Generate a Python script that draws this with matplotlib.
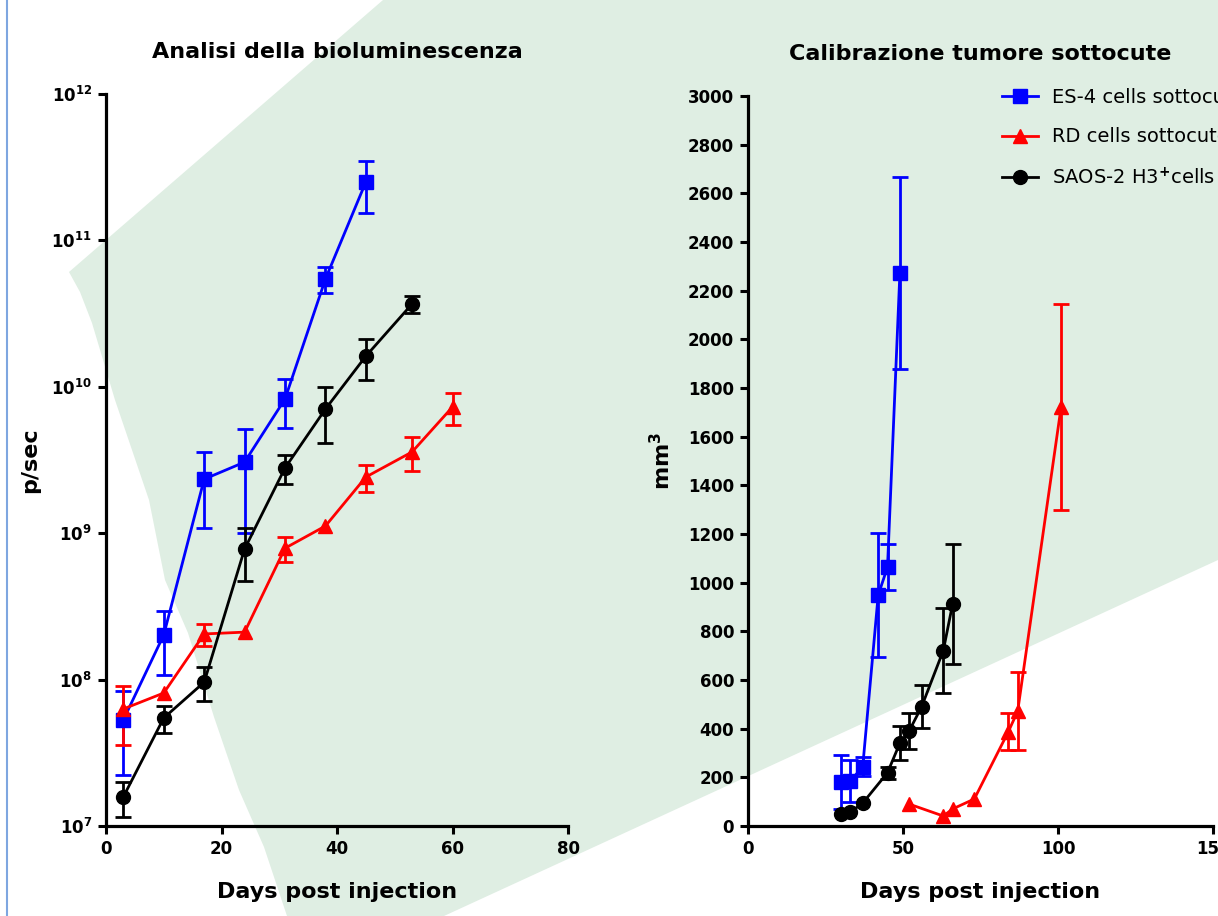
import numpy as np
import matplotlib
matplotlib.use('Agg')
import matplotlib.pyplot as plt
from matplotlib.patches import Polygon
from matplotlib.lines import Line2D
from matplotlib.ticker import NullLocator

nan = np.nan

# bioluminescenza (p/sec): media e SEM
bio_days_es4 = [3, 10, 17, 24, 31, 38, 45]
bio_es4 = [5.3e7, 2.02e8, 2.34e9, 3.06e9, 8.26e9, 5.45e10, 2.51e11]
bio_es4_sem = [3.06e7, 0.94e8, 1.25e9, 2.05e9, 3.0e9, 1.1e10, 0.96e11]

bio_days_rd = [3, 10, 17, 24, 31, 38, 45, 53, 60]
bio_rd = [6.3e7, 8.1e7, 2.05e8, 2.11e8, 7.9e8, 1.12e9, 2.42e9, 3.59e9, 7.28e9]
bio_rd_sem = [2.7e7, nan, 0.35e8, nan, 1.55e8, nan, 0.5e9, 0.93e9, 1.8e9]

bio_days_saos = [3, 10, 17, 24, 31, 38, 45, 53]
bio_saos = [1.58e7, 5.47e7, 9.6e7, 7.8e8, 2.79e9, 7.05e9, 1.62e10, 3.68e10]
bio_saos_sem = [0.43e7, 1.15e7, 2.5e7, 3.1e8, 0.63e9, 2.95e9, 0.5e10, 0.49e10]

# volume tumore (mm3): media e SEM
vol_days_es4 = [30, 33, 37, 42, 45, 49]
vol_es4 = [182, 185, 243, 949, 1064, 2273]
vol_es4_sem = [111, 86, 39, 255, 95, 395]

vol_days_rd = [52, 63, 66, 73, 84, 87, 101]
vol_rd = [90, 41, 70, 111, 388, 472, 1722]
vol_rd_sem = [nan, nan, nan, nan, 76, 161, 423]

vol_days_saos = [30, 33, 37, 45, 49, 52, 56, 63, 66]
vol_saos = [49, 57, 94, 219, 341, 391, 490, 721, 912]
vol_saos_sem = [nan, nan, nan, 25, 70, 75, 89, 173, 246]

labels = ['ES-4 cells sottocute', 'RD cells sottocute',
          'SAOS-2 H3$^{+}$cells sottocute']
colors = ['#0000ff', '#ff0000', '#000000']
markers = ['s', '^', 'o']
msizes = [9.5, 10, 10]

plt.rcParams['font.family'] = ['DejaVu Sans']
plt.rcParams['font.weight'] = 'bold'
plt.rcParams['axes.labelweight'] = 'bold'
plt.rcParams['axes.titleweight'] = 'bold'

W, H = 1218, 916
fig = plt.figure(figsize=(W / 100, H / 100), dpi=100)
fig.patch.set_facecolor('white')


def fbox(x0, y0, x1, y1):
    # pixel box (origine in alto a sinistra) -> frazioni di figura
    return [x0 / W, 1 - y1 / H, (x1 - x0) / W, (y1 - y0) / H]


# sfondo verde chiaro
bg = [(383, 0), (1218, 0), (1218, 560), (444, 916), (287, 916), (264, 847),
      (239, 790), (214, 717), (188, 633), (165, 580), (149, 500), (115, 400),
      (92, 323), (80, 292), (69, 272)]
fig.add_artist(Polygon([(x / W, 1 - y / H) for x, y in bg], closed=True,
                       transform=fig.transFigure, facecolor='#dfeee3',
                       edgecolor='none', zorder=-10))
fig.add_artist(Line2D([7 / W, 7 / W], [0, 1], transform=fig.transFigure,
                      color='#7ea6e0', lw=1.5, zorder=-5))

ax1 = fig.add_axes(fbox(106, 94, 568, 826))
ax2 = fig.add_axes(fbox(748, 96, 1213, 826))


def style(ax):
    ax.set_facecolor('none')
    for s in ['top', 'right']:
        ax.spines[s].set_visible(False)
    for s in ['left', 'bottom']:
        ax.spines[s].set_linewidth(2.3)
    ax.tick_params(direction='out', length=6, width=2.2, labelsize=12, pad=4)


def draw(ax, days, vals, sems):
    for i in range(3):
        ax.errorbar(days[i], vals[i], yerr=sems[i], color=colors[i],
                    marker=markers[i], ms=msizes[i], lw=2, elinewidth=2,
                    capsize=6, capthick=2, label=labels[i], clip_on=False)


style(ax1)
draw(ax1, [bio_days_es4, bio_days_rd, bio_days_saos],
     [bio_es4, bio_rd, bio_saos], [bio_es4_sem, bio_rd_sem, bio_saos_sem])
ax1.set_yscale('log')
ax1.set_ylim(1e7, 1e12)
ax1.set_xlim(0, 80)
ax1.set_xticks([0, 20, 40, 60, 80])
decades = [7, 8, 9, 10, 11, 12]
ax1.set_yticks([10.0 ** e for e in decades])
ax1.set_yticklabels([r'$\mathbf{10^{%d}}$' % e for e in decades])
ax1.yaxis.set_minor_locator(NullLocator())
ax1.set_title('Analisi della bioluminescenza', fontsize=16, pad=26)
ax1.set_xlabel('Days post injection', fontsize=16, labelpad=17)
ax1.set_ylabel('p/sec', fontsize=16, labelpad=8)

style(ax2)
draw(ax2, [vol_days_es4, vol_days_rd, vol_days_saos],
     [vol_es4, vol_rd, vol_saos], [vol_es4_sem, vol_rd_sem, vol_saos_sem])
ax2.set_xlim(0, 150)
ax2.set_ylim(0, 3000)
ax2.set_xticks([0, 50, 100, 150])
ax2.set_yticks(np.arange(0, 3001, 200))
ax2.set_title('Calibrazione tumore sottocute', fontsize=16, pad=26)
ax2.set_xlabel('Days post injection', fontsize=16, labelpad=17)
ax2.set_ylabel(r'mm$^{\mathbf{3}}$', fontsize=16, labelpad=10)

handles, labs = ax2.get_legend_handles_labels()
handles = [h[0] for h in handles]
leg = ax2.legend(handles, labs, loc='upper left', bbox_to_anchor=(0.546, 1.011),
                 frameon=False, borderpad=0, borderaxespad=0,
                 handlelength=1.85, handletextpad=0.75, labelspacing=1.05,
                 prop={'size': 14, 'weight': 'normal'})

fig.savefig('out.png', dpi=100)
